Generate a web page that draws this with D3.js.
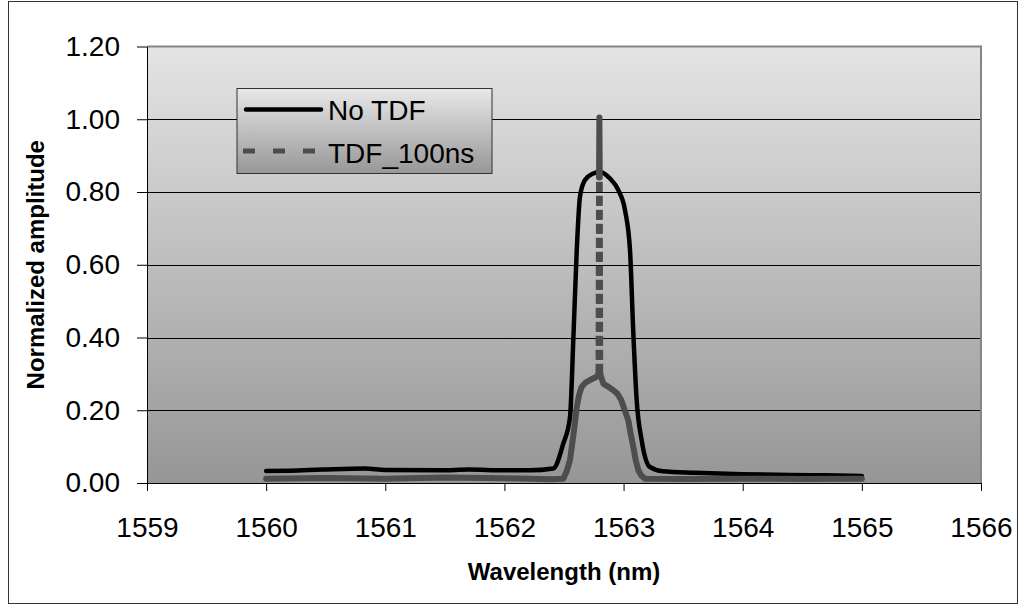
<!DOCTYPE html>
<html>
<head>
<meta charset="utf-8">
<script src="https://cdn.jsdelivr.net/npm/d3@7"></script>
<style>
  body { margin: 0; background: #fff; }
  svg text { font-family: Arial, "Liberation Sans", sans-serif; fill: #000; }
  .axis text { font-size: 28px; }
  .axis path, .axis line { stroke: #000; stroke-width: 1; }
  .axisLabel { font-size: 24px; font-weight: bold; }
  .legendText { font-size: 28px; }
</style>
</head>
<body>
<div id="chart1"></div>
<script>
// DATA

const seriesNames = ["No TDF", "TDF_100ns"];

const noTdfWl  = [1560.0, 1560.2, 1560.47, 1560.83, 1561.0, 1561.47, 1561.7, 1562.0, 1562.215, 1562.41,
                  1562.494, 1562.55, 1562.58, 1562.607, 1562.634, 1562.676, 1562.746, 1562.80, 1562.886,
                  1562.956, 1563.012, 1563.054, 1563.082, 1563.11, 1563.152, 1563.22, 1563.33, 1563.6,
                  1564.0, 1564.4, 1564.7, 1565.0];
const noTdfAmp = [0.033, 0.034, 0.037, 0.040, 0.036, 0.035, 0.037, 0.035, 0.035, 0.040,
                  0.108, 0.18, 0.41, 0.64, 0.787, 0.833, 0.851, 0.856, 0.837,
                  0.805, 0.75, 0.64, 0.41, 0.228, 0.117, 0.044, 0.032, 0.028,
                  0.024, 0.022, 0.021, 0.019];

const tdfWl  = [1560.0, 1560.5, 1561.0, 1561.5, 1562.0, 1562.4, 1562.494, 1562.52, 1562.55, 1562.57,
                1562.59, 1562.607, 1562.625, 1562.648, 1562.68, 1562.718, 1562.774, 1562.790, 1562.794,
                1562.797, 1562.800, 1562.804, 1562.83, 1562.87, 1562.914, 1562.95, 1562.98, 1563.01,
                1563.04, 1563.06, 1563.082, 1563.10, 1563.124, 1563.15, 1563.18, 1563.5, 1564.0,
                1564.5, 1565.0];
const tdfAmp = [0.012, 0.014, 0.012, 0.015, 0.013, 0.010, 0.012, 0.03, 0.062, 0.11,
                0.16, 0.209, 0.24, 0.264, 0.276, 0.283, 0.292, 0.300, 0.84,
                1.005, 0.84, 0.300, 0.273, 0.265, 0.255, 0.245, 0.228, 0.20,
                0.172, 0.135, 0.099, 0.065, 0.035, 0.02, 0.012, 0.011, 0.012,
                0.011, 0.012];

const xTicks = [1559, 1560, 1561, 1562, 1563, 1564, 1565, 1566];
const yTicks = [0, 0.2, 0.4, 0.6, 0.8, 1.0, 1.2];

// SET UP SVG

const chartwidth = 1019;
const chartheight = 605;
const margin = {top: 46.5, left: 147, right: 38, bottom: 122};

const svg = d3.select("#chart1")
    .append("svg")
    .attr("width", chartwidth)
    .attr("height", chartheight);

const defs = svg.append("defs");
const plotGrad = defs.append("linearGradient")
    .attr("id", "plotGrad").attr("x1", 0).attr("y1", 0).attr("x2", 0).attr("y2", 1);
plotGrad.append("stop").attr("offset", "0%").attr("stop-color", "#e4e4e4");
plotGrad.append("stop").attr("offset", "100%").attr("stop-color", "#969696");

const legGrad = defs.append("linearGradient")
    .attr("id", "legGrad").attr("x1", 0).attr("y1", 0).attr("x2", 0).attr("y2", 1);
legGrad.append("stop").attr("offset", "0%").attr("stop-color", "#e8e8e8");
legGrad.append("stop").attr("offset", "100%").attr("stop-color", "#979797");

// chart border
svg.append("rect")
    .attr("x", 8.5).attr("y", 1.5)
    .attr("width", 1009).attr("height", 602)
    .attr("fill", "none").attr("stroke", "#333").attr("stroke-width", 1);

// SCALES

const xScale = d3.scaleLinear()
    .domain([1559, 1566])
    .range([margin.left, chartwidth - margin.right]);

const yScale = d3.scaleLinear()
    .domain([0, 1.2])
    .range([chartheight - margin.bottom, margin.top]);

// PLOT AREA + GRID

svg.append("rect")
    .attr("x", xScale(1559)).attr("y", yScale(1.2))
    .attr("width", xScale(1566) - xScale(1559))
    .attr("height", yScale(0) - yScale(1.2))
    .attr("fill", "url(#plotGrad)");

svg.append("g")
    .selectAll("line")
    .data(yTicks.filter(d => d > 0 && d < 1.2))
    .enter()
    .append("line")
        .attr("x1", xScale(1559)).attr("x2", xScale(1566))
        .attr("y1", d => Math.round(yScale(d)) + 0.5)
        .attr("y2", d => Math.round(yScale(d)) + 0.5)
        .attr("stroke", "#000").attr("stroke-width", 1);

// top + right border of the plot
svg.append("path")
    .attr("d", `M${xScale(1559)},${yScale(1.2)}H${xScale(1566)}V${yScale(0)}`)
    .attr("fill", "none").attr("stroke", "#858585").attr("stroke-width", 2);

// AXES

svg.append("g")
    .attr("class", "axis")
    .attr("transform", `translate(0,${yScale(0)})`)
    .call(d3.axisBottom(xScale).tickValues(xTicks).tickFormat(d3.format("d"))
        .tickSize(8).tickSizeOuter(0).tickPadding(26));

svg.append("g")
    .attr("class", "axis")
    .attr("transform", `translate(${margin.left},0)`)
    .call(d3.axisLeft(yScale).tickValues(yTicks).tickFormat(d3.format(".2f"))
        .tickSize(10).tickSizeOuter(0).tickPadding(17));

// AXIS LABELS

svg.append("text")
    .attr("class", "axisLabel")
    .attr("x", (xScale(1559) + xScale(1566)) / 2)
    .attr("y", 580)
    .attr("text-anchor", "middle")
    .text("Wavelength (nm)");

svg.append("text")
    .attr("class", "axisLabel")
    .attr("x", -(yScale(0) + yScale(1.2)) / 2)
    .attr("y", 44)
    .attr("text-anchor", "middle")
    .attr("transform", "rotate(-90)")
    .text("Normalized amplitude");

// MARKS

const noTdf = noTdfWl.map((w, i) => ({wl: w, amp: noTdfAmp[i]}));
const tdf = tdfWl.map((w, i) => ({wl: w, amp: tdfAmp[i]}));

const line = d3.line()
    .x(d => xScale(d.wl))
    .y(d => yScale(d.amp));

svg.append("path")
    .datum(noTdf)
    .attr("d", line.curve(d3.curveMonotoneX))
    .attr("fill", "none")
    .attr("stroke", "#000")
    .attr("stroke-width", 4.5)
    .attr("stroke-linejoin", "round")
    .attr("stroke-linecap", "round");

// the dashed series: long segments get the dash, short runs look solid (like Excel)
const grayColor = "#4d4d4d";
const runs = [];
const longSegs = [];
let run = [tdf[0]];
for (let i = 1; i < tdf.length; i++) {
    const a = tdf[i - 1], b = tdf[i];
    const len = Math.hypot(xScale(b.wl) - xScale(a.wl), yScale(b.amp) - yScale(a.amp));
    if (len > 100) {
        runs.push(run);
        longSegs.push(a.amp < b.amp ? [a, b] : [b, a]);
        run = [b];
    } else {
        run.push(b);
    }
}
runs.push(run);

const linearLine = d3.line()
    .x(d => xScale(d.wl))
    .y(d => yScale(d.amp));

svg.append("g")
    .selectAll("path")
    .data(runs)
    .enter()
    .append("path")
        .attr("d", linearLine)
        .attr("fill", "none")
        .attr("stroke", grayColor)
        .attr("stroke-width", 6)
        .attr("stroke-linejoin", "round")
        .attr("stroke-linecap", "round");

svg.append("g")
    .selectAll("path")
    .data(longSegs)
    .enter()
    .append("path")
        .attr("d", linearLine)
        .attr("fill", "none")
        .attr("stroke", grayColor)
        .attr("stroke-width", 6)
        .attr("stroke-dasharray", "10,4");

// LEGEND

const legend = svg.append("g").attr("transform", "translate(237,88.5)");

legend.append("rect")
    .attr("x", 0).attr("y", 0)
    .attr("width", 255).attr("height", 85)
    .attr("fill", "url(#legGrad)")
    .attr("stroke", "#333").attr("stroke-width", 1);

legend.append("line")
    .attr("x1", 9).attr("x2", 84).attr("y1", 21).attr("y2", 21)
    .attr("stroke", "#000").attr("stroke-width", 4.5).attr("stroke-linecap", "round");

legend.append("line")
    .attr("x1", 6).attr("x2", 79).attr("y1", 62.5).attr("y2", 62.5)
    .attr("stroke", grayColor).attr("stroke-width", 5).attr("stroke-dasharray", "12,18");

legend.selectAll("text")
    .data(seriesNames)
    .enter()
    .append("text")
        .attr("class", "legendText")
        .attr("x", 91)
        .attr("y", (d, i) => 31.5 + i * 42.5)
        .text(d => d);
</script>
</body>
</html>
